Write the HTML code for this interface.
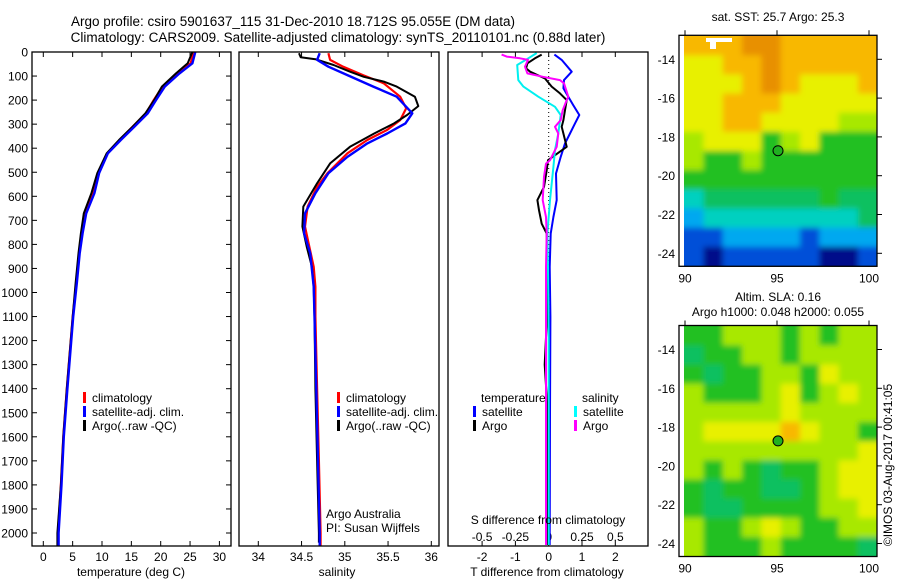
<!DOCTYPE html>
<html><head><meta charset="utf-8">
<style>
html,body{margin:0;padding:0;background:#fff;}
svg{display:block;font-family:"Liberation Sans",sans-serif;}
</style></head>
<body>
<svg id="chart" width="900" height="580" viewBox="0 0 900 580" xmlns="http://www.w3.org/2000/svg">
<defs>
<filter id="soft" filterUnits="userSpaceOnUse" x="600" y="0" width="300" height="580"><feGaussianBlur stdDeviation="3"/></filter>
<clipPath id="clip1"><rect x="684" y="36" width="193" height="230"/></clipPath>
<clipPath id="clip2"><rect x="684" y="325" width="193" height="231"/></clipPath>
</defs>
<text x="293" y="26" font-size="13.5" text-anchor="middle">Argo profile: csiro 5901637_115 31-Dec-2010 18.712S 95.055E (DM data)</text>
<text x="338" y="42" font-size="13.5" text-anchor="middle">Climatology: CARS2009. Satellite-adjusted climatology: synTS_20110101.nc (0.88d later)</text>
<g id="g1"></g>
<g id="g2"></g>
<g id="g3"></g>
<g id="m1"></g>
<g id="m2"></g>
<text transform="translate(892,465) rotate(-90)" font-size="12" text-anchor="middle">©IMOS 03-Aug-2017 00:41:05</text>
</svg>
<script>
// ---- data ----
const tempClimDepth = [0,47,89,144,200,255,311,366,421,504,587,671,754,837,962,1101,1400,1600,1800,2000,2055];
const tempClim = [25.6,25.1,22.8,20.3,18.8,17.5,15.2,13.0,10.9,9.3,8.5,7.1,6.5,6.1,5.6,5.0,4.0,3.4,3.0,2.5,2.5];
const tempSat = [25.9,25.4,23.2,20.7,19.2,17.8,15.5,13.2,11.0,9.5,8.7,7.3,6.7,6.2,5.7,5.1,4.1,3.5,3.1,2.6,2.6];
const tempArgo = [25.4,24.6,22.6,20.2,18.9,17.4,15.2,12.9,10.8,9.2,8.2,6.9,6.4,6.0,5.5,5.0,4.0,3.4,3.0,2.4,2.4];
const salClimDepth = [5,33,61,96,130,186,234,283,324,366,421,504,560,643,726,809,893,976,1100,1400,1700,2000,2055];
const salClim = [34.81,34.83,34.98,35.21,35.45,35.64,35.71,35.64,35.49,35.26,35.03,34.80,34.68,34.57,34.54,34.59,34.64,34.66,34.66,34.68,34.70,34.72,34.72];
const salSatDepth = [5,33,61,96,144,186,255,297,339,380,436,504,587,671,754,837,976,1100,1400,1700,2000,2055];
const salSat = [34.71,34.68,34.81,35.03,35.33,35.60,35.78,35.70,35.49,35.26,35.03,34.81,34.66,34.54,34.53,34.60,34.64,34.65,34.67,34.69,34.71,34.71];
const salArgoDepth = [5,22,30,54,82,103,123,144,186,225,262,297,339,394,463,546,643,726,809,893,976,1100,1400,1700,2000,2040];
const salArgo = [34.47,34.49,34.66,34.87,35.06,35.22,35.45,35.60,35.81,35.85,35.72,35.57,35.34,35.06,34.83,34.68,34.52,34.51,34.56,34.62,34.64,34.65,34.66,34.68,34.70,34.70];
const dTSatDepth = [11,33,82,117,151,186,221,262,297,339,380,436,505,616,686,755,894,1100,1500,2050];
const dTSat = [0.17,0.39,0.69,0.46,0.44,0.59,0.74,0.92,0.79,0.64,0.49,0.36,0.22,0.24,0.14,0.06,0.03,0.05,0.04,0.03];
const dTArgoDepth = [11,26,47,68,82,110,144,172,200,242,283,311,339,394,429,450,492,561,616,658,714,755,894,1100,1300,1500,2050];
const dTArgo = [-0.21,-0.41,-0.64,-0.68,-0.56,-0.11,0.09,0.34,0.54,0.49,0.44,0.39,0.44,0.54,0.19,-0.02,-0.06,-0.14,-0.34,-0.29,-0.21,-0.06,-0.04,-0.05,-0.12,-0.03,-0.03];
const dSSatDepth = [4,26,54,117,144,186,228,262,339,408,478,616,755,894,1200,2050];
const dSSat = [-0.09,-0.153,-0.236,-0.228,-0.19,-0.078,0.047,0.09,0.072,0.047,0.035,0.01,-0.01,-0.005,0.0,0.0];
const dSArgoDepth = [11,19,26,33,61,89,103,117,130,186,200,242,283,311,339,394,450,464,519,616,686,755,894,1200,2050];
const dSArgo = [-0.353,-0.315,-0.215,-0.155,-0.178,-0.16,-0.043,0.085,0.115,0.147,0.135,0.105,0.09,0.047,0.072,0.06,0.01,-0.02,-0.035,-0.045,-0.02,-0.015,-0.02,-0.02,-0.02];
const depthTicks = [0,100,200,300,400,500,600,700,800,900,1000,1100,1200,1300,1400,1500,1600,1700,1800,1900,2000];
const tempTicks = [0,5,10,15,20,25,30];
const salTicks = [34,34.5,35,35.5,36];
const salTickLabels = ["34","34.5","35","35.5","36"];
const dTTicks = [-2,-1,0,1,2];
const dSTicks = [-0.5,-0.25,0,0.25,0.5];
const dSTickLabels = ["-0.5","-0.25","0","0.25","0.5"];
const lonTicks = [90,95,100];
const latTicks = [-14,-16,-18,-20,-22,-24];
const argoLon = 95.055, argoLat = -18.712;
// map values on 0..9 colour scale, rows north→south spanning -12.8..-24.65, cols 90..100.4 E
const sstGrid = [
[8,8,8,9,9,8,8,8,8,8],
[7,7,8,8,9,8,8,8,8,8],
[7,7,7,8,9,8,7,7,7,8],
[7,7,8,8,8,7,7,7,7,7],
[7,7,8,8,7,7,7,7,6,6],
[6,7,7,7,5,6,7,5,5,5],
[6,5,5,6,5,5,5,5,5,5],
[5,5,5,5,5,5,5,5,5,5],
[3,4,4,4,4,4,4,5,4,4],
[2,3,3,3,3,3,3,3,3,4],
[1,1,2,2,2,2,1,2,2,2],
[1,0,1,1,1,1,1,0,0,1]];
const slaGrid = [
[5,5,6,6,6,5,6,5,6,6],
[4,5,5,6,6,5,6,6,6,6],
[5,4,5,5,6,6,5,7,6,6],
[6,5,5,5,6,7,5,6,7,6],
[6,6,6,6,6,7,6,6,6,6],
[6,7,7,7,7,8,7,6,6,5],
[6,6,6,6,6,6,6,6,6,7],
[6,5,6,5,4,5,5,6,7,7],
[5,4,5,5,4,4,5,6,7,7],
[5,4,4,5,5,5,5,6,6,7],
[6,5,5,6,7,6,5,5,6,6],
[6,5,5,5,6,5,5,5,5,4]];
const palette = ["#00108a","#0050d8","#00a8f0","#00d0c0","#10c060","#20c020","#a8e800","#e8f000","#f8b800","#e89000"];

// ---- helpers ----
const NS="http://www.w3.org/2000/svg";
function mk(parent,tag,attrs){const e=document.createElementNS(NS,tag);for(const k in attrs)e.setAttribute(k,attrs[k]);parent.appendChild(e);return e;}
function txt(parent,x,y,s,anchor,size){const t=mk(parent,'text',{x:x,y:y,'font-size':size||12,'text-anchor':anchor||'start'});t.textContent=s;return t;}
const yD = d => 52 + d*0.2405;
const xT = t => 43.3 + t*5.87;
const xS = s => 258.3 + (s-34)*86.5;
const xDT = v => 548.7 + v*33.3;
const xDS = v => 548.7 + v*133.3;
const TOP=52, BOT=546;
function line(g,depths,vals,fx,color,w,name){
  const pts=[];
  for(let i=0;i<vals.length;i++){pts.push(fx(vals[i]).toFixed(1)+','+yD(depths[i]).toFixed(1));}
  const p=mk(g,'polyline',{points:pts.join(' '),fill:'none',stroke:color,'stroke-width':w,'stroke-linejoin':'round'});
  
  
}
function frame(g,x0,x1){
  const r=mk(g,'rect',{x:x0,y:TOP,width:x1-x0,height:BOT-TOP,fill:'none',stroke:'#000','stroke-width':1.3});
  
  
}
function xticks(g,vals,fx,labels,ly){
  vals.forEach((v,i)=>{const x=fx(v);
    mk(g,'line',{x1:x,x2:x,y1:TOP,y2:TOP+5,stroke:'#000'});
    mk(g,'line',{x1:x,x2:x,y1:BOT,y2:BOT-5,stroke:'#000'});
    if(ly){const t=txt(g,x,ly,labels[i],'middle');
      
      }
  });
}
function legendEntry(g,x,y,color,label){
  mk(g,'rect',{x:x,y:y-10,width:3,height:11,fill:color});
  const t=txt(g,x+9,y,label);
  
  
}

// ---- panel 1 ----
const g1=document.getElementById('g1');
depthTicks.forEach(d=>{const y=yD(d);
  mk(g1,'line',{x1:32,x2:37,y1:y,y2:y,stroke:'#000'});
  mk(g1,'line',{x1:231,x2:226,y1:y,y2:y,stroke:'#000'});
  const t=txt(g1,28,y+4.5,String(d),'end');
  
  
});
xticks(g1,tempTicks,xT,tempTicks.map(String),561);
line(g1,tempClimDepth,tempClim,xT,'#ff0000',2.2,'temp-climatology-line');
line(g1,tempClimDepth,tempArgo,xT,'#000000',2,'temp-argo-line');
line(g1,tempClimDepth,tempSat,xT,'#0000ff',2.4,'temp-satellite-line');
frame(g1,32,231);
legendEntry(g1,83,402,'#ff0000','climatology');
legendEntry(g1,83,416,'#0000ff','satellite-adj. clim.');
legendEntry(g1,83,430,'#000000','Argo(..raw -QC)');
let t1=txt(g1,131,576,'temperature (deg C)','middle');


// ---- panel 2 ----
const g2=document.getElementById('g2');
xticks(g2,salTicks,xS,salTickLabels,561);
line(g2,salClimDepth,salClim,xS,'#ff0000',2.2,'sal-climatology-line');
line(g2,salArgoDepth,salArgo,xS,'#000000',2,'sal-argo-line');
line(g2,salSatDepth,salSat,xS,'#0000ff',2.4,'sal-satellite-line');
frame(g2,239,439);
legendEntry(g2,337,402,'#ff0000','climatology');
legendEntry(g2,337,416,'#0000ff','satellite-adj. clim.');
legendEntry(g2,337,430,'#000000','Argo(..raw -QC)');
txt(g2,326,518,'Argo Australia');
txt(g2,326,532,'PI: Susan Wijffels');
let t2=txt(g2,337,576,'salinity','middle');


// ---- panel 3 ----
const g3=document.getElementById('g3');
xticks(g3,dTTicks,xDT,dTTicks.map(String),561);
dSTicks.forEach((v,i)=>{const t=txt(g3,xDS(v),541,dSTickLabels[i],'middle');
  
  });
mk(g3,'line',{x1:548.7,x2:548.7,y1:TOP,y2:BOT,stroke:'#000','stroke-dasharray':'1,3'});
line(g3,dTSatDepth,dTSat,xDT,'#0000ff',2,'temp-diff-satellite-line');
line(g3,dTArgoDepth,dTArgo,xDT,'#000000',2,'temp-diff-argo-line');
line(g3,dSSatDepth,dSSat,xDS,'#00f0f0',2,'sal-diff-satellite-line');
line(g3,dSArgoDepth,dSArgo,xDS,'#ff00ff',2,'sal-diff-argo-line');
frame(g3,448,648);
txt(g3,481,402,'temperature');
legendEntry(g3,473,416,'#0000ff','satellite');
legendEntry(g3,473,430,'#000000','Argo');
txt(g3,582,402,'salinity');
legendEntry(g3,574,416,'#00ffff','satellite');
legendEntry(g3,574,430,'#ff00ff','Argo');
txt(g3,548,524,'S difference from climatology','middle');
let t3=txt(g3,547,576,'T difference from climatology','middle');


// ---- maps ----
function drawMap(gid,grid,fy0,clipId,titles){
  const g=document.getElementById(gid);
  const xL = lon => 685 + (lon-90)*18.4;
  const yL = lat => fy0 + (-14-lat)*19.4;
  const lat0=-12.8, lat1=-24.65, lon0=89.95, lon1=100.45;
  const nr=grid.length, nc=grid[0].length;
  const cells=mk(g,'g',{'clip-path':'url(#'+clipId+')'});
  const inner=mk(cells,'g',{filter:'url(#soft)'});
  grid.forEach((row,r)=>row.forEach((v,c)=>{
    const la=lat0+(lat1-lat0)*r/nr, lo=lon0+(lon1-lon0)*c/nc;
    const la2=lat0+(lat1-lat0)*(r+1)/nr, lo2=lon0+(lon1-lon0)*(c+1)/nc;
    const x=xL(lo), y=yL(la);
    const w=xL(lo2)-x+ (c==nc-1?8:0.5), h=yL(la2)-y+(r==nr-1?8:0.5);
    const rc=mk(inner,'rect',{x:(c==0?x-8:x).toFixed(1),y:(r==0?y-8:y).toFixed(1),width:(w+(c==0?8:0)).toFixed(1),height:(h+(r==0?8:0)).toFixed(1),fill:palette[v]});
    
    
  }));
  const top=fy0-24, bot=fy0+207;
  mk(g,'rect',{x:679,y:top,width:198,height:bot-top,fill:'none',stroke:'#000','stroke-width':1.3});
  lonTicks.forEach(l=>{const x=xL(l);
    mk(g,'line',{x1:x,x2:x,y1:top,y2:top-5,stroke:'#000'});
    const t=txt(g,x,bot+16,String(l),'middle');
    
    });
  latTicks.forEach(l=>{const y=yL(l);
    mk(g,'line',{x1:877,x2:882,y1:y,y2:y,stroke:'#000'});
    const t=txt(g,675,y+4.5,String(l),'end');
    
    });
  const dot=mk(g,'circle',{cx:xL(argoLon),cy:yL(argoLat),r:5,fill:'#20b020',stroke:'#000','stroke-width':1});
  
  
  titles.forEach(tt=>{const a=txt(g,778,tt[1],tt[0],'middle');
    
    });
}
drawMap('m1',sstGrid,59.3,'clip1',[['sat. SST: 25.7  Argo: 25.3',21]]);
drawMap('m2',slaGrid,349.5,'clip2',[['Altim. SLA: 0.16',301],['Argo h1000: 0.048 h2000: 0.055',316]]);
// white land/cloud patch on SST map
const m1=document.getElementById('m1');
const wp=mk(m1,'path',{d:'M706 38 H732 V42 H716 V49 H710 V42 H706 Z',fill:'#fff'});


</script>
</body></html>
